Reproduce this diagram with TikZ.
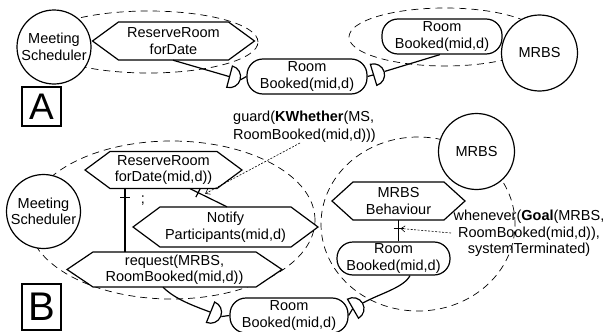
\documentclass[tikz,border=0pt]{standalone}
\usepackage{fontspec}
\setmainfont{Liberation Sans}
\usetikzlibrary{shapes.geometric,shapes.misc,calc,arrows.meta}
\newcommand{\hexnode}[7]{%
  \draw[hexline] (#2-#4,#3) -- (#2-#4+#6,#3-#5) -- (#2+#4-#6,#3-#5) -- (#2+#4,#3) -- (#2+#4-#6,#3+#5) -- (#2-#4+#6,#3+#5) -- cycle;
  \node[hexlabel, minimum width={(#4-#6)*2pt}, minimum height={#5*2pt}] (#1) at (#2,#3) {#7};}
\begin{document}
\begin{tikzpicture}[x=1pt,y=-1pt,
  every node/.style={font=\fontsize{14.5}{16.5}\selectfont, inner sep=0pt},
  lw/.style={line width=1.2pt},
  circ/.style={circle, draw, lw, fill=white, minimum size=74pt, align=center},
  rbox/.style={rectangle, draw, lw, fill=white, align=center, rounded corners=16pt},
  hexlabel/.style={align=center},
  hexline/.style={lw, fill=white, line join=miter},
  grp/.style={ellipse, draw, line width=0.7pt, dash pattern=on 7pt off 5pt},
  conn/.style={lw},
  dsh/.style={semicircle, draw, lw, fill=white, minimum width=22pt, minimum height=11pt, anchor=chord center},
  note/.style={line width=0.6pt, dash pattern=on 2pt off 1.5pt, -{Straight Barb[length=4pt,width=6pt]}},
  panel/.style={draw, line width=1.2pt, minimum width=39pt}
]
\useasboundingbox (0,0) rectangle (603,332);
% group ellipses
\node[grp, minimum width=219pt, minimum height=62pt] (ga) at (148.5,42) {};
\node[grp, minimum width=192pt, minimum height=58pt] (gb) at (445,37) {};
\node[grp, minimum width=287pt, minimum height=158pt] (gc) at (171.5,220) {};
\node[grp, minimum width=194pt, minimum height=174pt] (gd) at (418,224) {};
% hexagons
\hexnode{rfa}{173.5}{41}{81}{19}{26}{ReserveRoom\\forDate}
\hexnode{rrb}{163.5}{170}{78.5}{18.5}{25}{ReserveRoom\\forDate(mid,d))}
\hexnode{npb}{225.5}{227}{92.5}{20}{27}{Notify\\Participants(mid,d)}
\hexnode{rqb}{174.5}{269.5}{107.5}{17.5}{26}{request(MRBS,\\RoomBooked(mid,d))}
\hexnode{mbh}{398.5}{201}{66.5}{19}{21}{MRBS\\Behaviour}
% rounded boxes
\node[rbox, minimum width=120pt, minimum height=35pt] (rba) at (307,76.5) {Room\\Booked(mid,d)};
\node[rbox, minimum width=120pt, minimum height=35pt] (rbb) at (442,36.5) {Room\\Booked(mid,d)};
\node[rbox, minimum width=113pt, minimum height=33pt] (rbm) at (393.5,258.5) {Room\\Booked(mid,d)};
\node[rbox, minimum width=118pt, minimum height=35pt] (rbc) at (289,315.5) {Room\\Booked(mid,d)};
% D shapes
\node[dsh, rotate=-105] (d1) at (229,76.5) {};
\node[dsh, rotate=-73] (d2) at (373,75) {};
\node[dsh, rotate=-112] (d3) at (210,312) {};
\node[dsh, rotate=-60] (d4) at (352.5,309) {};
% connectors panel A
\draw[conn] ([xshift=-0.5pt]rfa.south) -- (d1.chord center);
\draw[conn] (d1.apex) -- (rba.west);
\draw[conn] (rba.east) -- (d2.chord center);
\draw[conn] (d2.apex) -- ([xshift=-2pt]rbb.south);
% connectors panel B
\draw[conn] ([xshift=-38.5pt]rrb.south) -- coordinate[pos=0.14] (t1) ([xshift=-38.5pt]rrb.south |- rqb.north);
\draw[conn] ($(t1)+(-5,0)$) -- ($(t1)+(5,0)$);
\draw[conn] ([xshift=26.5pt]rrb.south) -- coordinate[pos=0.22] (t2) ([xshift=1.5pt]npb.north);
\draw[conn] ($(t2)!5pt!90:(npb.north)$) -- ($(t2)!5pt!-90:(npb.north)$);
\node (sc) at (143,201) {;};
\draw[conn] ([xshift=-11.5pt]rqb.south) .. controls +(12,12) and +(-16,-6) .. (d3.chord center);
\draw[conn] (d3.apex) -- (rbc.west);
\draw[conn] (rbc.east) -- (d4.chord center);
\draw[conn] (d4.apex) .. controls +(16,-9) and +(-6,12) .. ([xshift=16.5pt]rbm.south);
\draw[conn] (mbh.south) -- coordinate[pos=0.39] (t3) (mbh.south |- rbm.north);
\draw[conn] ($(t3)+(-5,0)$) -- ($(t3)+(5,0)$);
% circles
\node[circ] (msa) at (54,47) {Meeting\\Scheduler};
\node[circ, minimum size=76pt] (mra) at (539.5,53) {MRBS};
\node[circ] (msb) at (43.5,211.5) {Meeting\\Scheduler};
\node[circ, minimum size=76pt] (mrb) at (476.5,151.5) {MRBS};
% panel labels
\node[panel, minimum height=39pt, font=\fontsize{37}{37}\selectfont] (pa) at (41.5,106.5) {A};
\node[panel, minimum height=46pt, font=\fontsize{40}{40}\selectfont] (pb) at (41.5,307) {B};
% annotations
\node[anchor=west, align=left, font=\fontsize{14.5}{18}\selectfont] (grd) at (233,127) {guard(\textbf{KWhether}(MS,\\RoomBooked(mid,d)))};
\coordinate (gs) at (300,143);
\coordinate (ge) at ($(t2)+(7,1)$);
\draw[note] (gs) -- (ge);
\node[align=center] (whn) at (529,233.5) {whenever(\textbf{Goal}(MRBS,\\RoomBooked(mid,d)),\\systemTerminated)};
\coordinate (ws) at (451,233);
\coordinate (we) at ($(t3)+(2,0)$);
\draw[note] (ws) -- (we);
\end{tikzpicture}
\end{document}
